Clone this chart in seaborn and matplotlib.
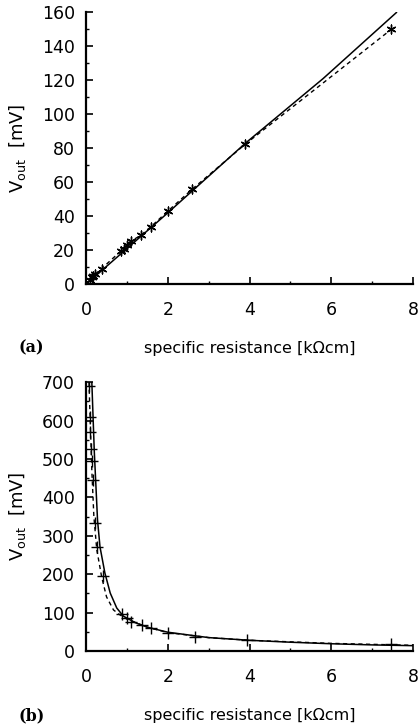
import numpy as np
import pandas as pd
import matplotlib
matplotlib.use("Agg")
import matplotlib.pyplot as plt
import seaborn as sns

# (a) measured points, dashed line through them
res_a = [0.1, 0.14, 0.18, 0.22, 0.38, 0.85, 0.92, 0.99, 1.11, 1.34, 1.58, 2.0, 2.6, 3.9, 7.47]
v_a = [2.5, 4.3, 5.0, 5.9, 9.2, 19.5, 21.0, 23.0, 25.5, 28.8, 33.7, 43.0, 56.0, 82.5, 150.0]
# (a) theory curve (solid)
theo_res_a = [0.0, 2.0, 3.9, 5.8, 7.6]
theo_v_a = [0.0, 42.0, 83.0, 121.0, 160.0]

# (b) measured points
res_b = [0.08, 0.09, 0.1, 0.12, 0.14, 0.18, 0.22, 0.26, 0.41, 0.87, 0.99, 1.11, 1.36, 1.6, 2.01, 2.66, 3.93, 7.47]
v_b = [690, 610, 570, 525, 495, 445, 333, 271, 195, 96, 85, 76, 68, 59, 48, 36, 29, 18]
# (b) fitted curve (dashed)
fit_res_b = [0.07, 0.1, 0.14, 0.19, 0.26, 0.38, 0.5, 0.67, 0.83, 1.0, 1.5, 2.0, 3.0, 4.0, 6.0, 8.0]
fit_v_b = [700, 600, 470, 350, 265, 193, 141, 107, 94, 83, 62, 48, 35, 28, 20, 15]
# (b) theory curve (solid)
theo_res_b = [0.14, 0.2, 0.28, 0.34, 0.46, 0.59, 0.75, 0.91, 1.2, 1.5, 2.0, 3.0, 4.0, 5.0, 6.0, 7.0, 8.0]
theo_v_b = [700, 520, 340, 271, 203, 151, 112, 91, 74, 62, 49, 35, 28, 23, 19, 16, 14]

sns.set_style("ticks")
plt.rcParams['font.family'] = ['DejaVu Sans']
plt.rcParams['text.color'] = 'black'
plt.rcParams['axes.labelcolor'] = 'black'
plt.rcParams['xtick.color'] = 'black'
plt.rcParams['ytick.color'] = 'black'

fig = plt.figure(figsize=(4.18, 7.25), dpi=100)
ax1 = fig.add_axes([0.206, 0.608, 0.782, 0.375])
ax2 = fig.add_axes([0.206, 0.102, 0.782, 0.371])

df_a = pd.DataFrame({"res": res_a, "v": v_a})
df_b = pd.DataFrame({"res": res_b, "v": v_b})

sns.lineplot(x=theo_res_a, y=theo_v_a, ax=ax1, color="black", lw=1.1)
sns.lineplot(data=df_a, x="res", y="v", ax=ax1, color="black", lw=1.0,
             linestyle=(0, (3, 2.5)), sort=True)
ax1.scatter(df_a["res"], df_a["v"], marker=(6, 2, 0), s=40, color="black", lw=1.0, zorder=3)

sns.lineplot(x=theo_res_b, y=theo_v_b, ax=ax2, color="black", lw=1.1)
sns.lineplot(x=fit_res_b, y=fit_v_b, ax=ax2, color="black", lw=1.0,
             linestyle=(0, (3, 2.5)))
ax2.scatter(df_b["res"], df_b["v"], marker="+", s=70, color="black", lw=1.0, zorder=3)

for ax, ymax, ystep, ymin_step in [(ax1, 160, 20, 10), (ax2, 700, 100, 50)]:
    ax.set_xlim(0, 8)
    ax.set_ylim(0, ymax)
    ax.set_xticks(np.arange(0, 9, 2))
    ax.set_xticks(np.arange(1, 8, 2), minor=True)
    ax.set_yticks(np.arange(0, ymax + 1, ystep))
    ax.set_yticks(np.arange(ymin_step, ymax, ymin_step), minor=True)
    ax.tick_params(axis="x", which="major", pad=12)
    ax.tick_params(axis="y", which="major", pad=8)
    ax.tick_params(which="major", direction="in", length=5, width=1.2, labelsize=12.5)
    ax.tick_params(which="minor", direction="in", length=2.5, width=1.0)
    sns.despine(ax=ax)
    for s in ["left", "bottom"]:
        ax.spines[s].set_linewidth(1.6)
        ax.spines[s].set_color("black")
    ax.set_xlabel("specific resistance [k\u03a9cm]", fontsize=11.5, labelpad=16)
    ax.set_ylabel(r"V$_{\mathrm{out}}$  [mV]", fontsize=13, labelpad=10)

fig.text(0.045, 0.52, "(a)", fontsize=11.5, fontweight="bold", family="DejaVu Serif", va="center")
fig.text(0.045, 0.013, "(b)", fontsize=11.5, fontweight="bold", family="DejaVu Serif", va="center")

fig.savefig("out.png", dpi=100)
